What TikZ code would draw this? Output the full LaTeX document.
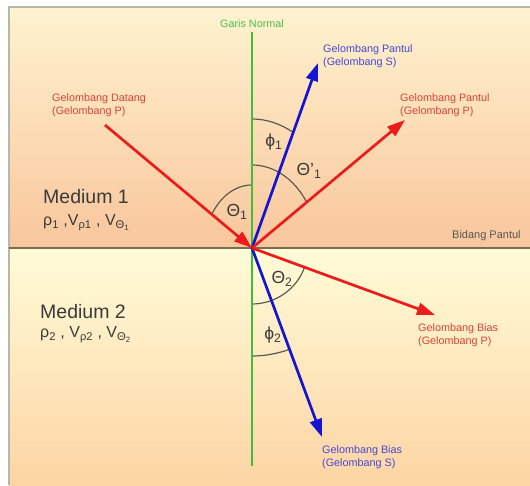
\documentclass[tikz,border=0pt]{standalone}
\usepackage{fontspec}
\setmainfont{Liberation Sans}
\usetikzlibrary{arrows.meta}
\definecolor{rayred}{HTML}{EC1C1C}
\definecolor{rayblue}{HTML}{1414D2}
\definecolor{normgreen}{HTML}{3CC03C}
\definecolor{lblred}{HTML}{D8433A}
\definecolor{lblblue}{HTML}{4646D6}
\definecolor{lblgreen}{HTML}{4CBF4C}
\definecolor{txtgray}{HTML}{3A3A3A}
\definecolor{arcgray}{HTML}{5A5A50}
\definecolor{upTop}{HTML}{FEF3D0}
\definecolor{upBot}{HTML}{F9C69C}
\definecolor{loTop}{HTML}{FFFCD8}
\definecolor{loBot}{HTML}{FDD4A4}
\definecolor{framegray}{HTML}{B8B8A8}
\definecolor{ifline}{HTML}{7C6C56}
\begin{document}
\begin{tikzpicture}[x=1pt,y=1pt,
  ray/.style={line width=2.7pt,-{Triangle[length=18pt,width=12pt]}},
  lbl/.style={font=\fontsize{10.8}{13.5}\selectfont,align=left,anchor=west,inner sep=0pt},
  anglbl/.style={font=\fontsize{17.5}{18}\selectfont,text=txtgray,inner sep=0pt},
  arcline/.style={draw=arcgray,line width=1.2pt},
  medium/.style={font=\fontsize{19.5}{22}\selectfont,text=txtgray,anchor=base west,inner sep=0pt},
  params/.style={font=\fontsize{16}{18}\selectfont,text=txtgray,anchor=base west,inner sep=0pt}]
\useasboundingbox (0,0) rectangle (530,485);
\fill[white] (0,0) rectangle (530,485);
% backgrounds
\shade[top color=upTop,bottom color=upBot] (9,237) rectangle (530,478);
\shade[top color=loTop,bottom color=loBot] (9,0) rectangle (530,237);
\draw[framegray,line width=1.2pt] (9,0) -- (9,478) -- (530,478);
\draw[ifline,line width=1.6pt] (9,237) -- (530,237);
% key points
\coordinate (O) at (252,237);
\coordinate (nTop) at (252,453);
\coordinate (nBot) at (252,19);
\coordinate (inc) at (105,360);
\coordinate (reflS) at (318,422);
\coordinate (reflP) at (405,365);
\coordinate (refrP) at (435,170);
\coordinate (refrS) at (322,48);
% angle arcs
\draw[arcline] (O) ++(0,63) arc[start angle=90,end angle=147.7,x radius=47.5pt,y radius=63pt];
\draw[arcline] (O) ++(0,83) arc[start angle=90,end angle=33.4,x radius=65.5pt,y radius=83pt];
\draw[arcline] (O) ++(0,129) arc[start angle=90,end angle=63.6,x radius=92.7pt,y radius=129pt];
\draw[arcline] (O) ++(0,-56) arc[start angle=-90,end angle=-20.1,radius=56pt];
\draw[arcline] (O) ++(0,-108) arc[start angle=-90,end angle=-69.7,radius=108pt];
% normal
\draw[normgreen,line width=2pt] (nTop) -- (nBot);
% rays
\draw[ray,rayblue] (O) -- (reflS);
\draw[ray,rayblue] (O) -- (refrS);
\draw[ray,rayred] (O) -- (reflP);
\draw[ray,rayred] (O) -- (refrP);
\draw[ray,rayred] (inc) -- (O);
% labels
\node[lbl,anchor=center,text=lblgreen] (lnormal) at (252,461) {Garis Normal};
\node[lbl,text=lblblue] (lreflS) at (323,429) {Gelombang Pantul\\(Gelombang S)};
\node[lbl,text=lblred] (linc) at (52,380) {Gelombang Datang\\(Gelombang P)};
\node[lbl,text=lblred] (lreflP) at (400,380) {Gelombang Pantul\\(Gelombang P)};
\node[lbl,text=lblred] (lrefrP) at (418,150) {Gelombang Bias\\(Gelombang P)};
\node[lbl,text=lblblue] (lrefrS) at (322,28) {Gelombang Bias\\(Gelombang S)};
\node[lbl,text=txtgray!85,font=\fontsize{11}{13}\selectfont] (lbidang) at (452,249) {Bidang Pantul};
% medium texts
\node[medium] (m1) at (43,281) {Medium 1};
\node[params] (p1) at (43,259) {ρ\textsubscript{1} ,V\textsubscript{ρ1} , V\textsubscript{Θ\textsubscript{1}}};
\node[medium] (m2) at (40,167) {Medium 2};
\node[params] (p2) at (40,147) {ρ\textsubscript{2} , V\textsubscript{ρ2} , V\textsubscript{Θ\textsubscript{2}}};
% angle labels
\node[anglbl] (aphi1) at (274,343) {ϕ\textsubscript{1}};
\node[anglbl] (ath1p) at (309,314) {Θ'\textsubscript{1}};
\node[anglbl] (ath1) at (237,273) {Θ\textsubscript{1}};
\node[anglbl] (ath2) at (282,206) {Θ\textsubscript{2}};
\node[anglbl] (aphi2) at (273,150) {ϕ\textsubscript{2}};
\end{tikzpicture}
\end{document}
